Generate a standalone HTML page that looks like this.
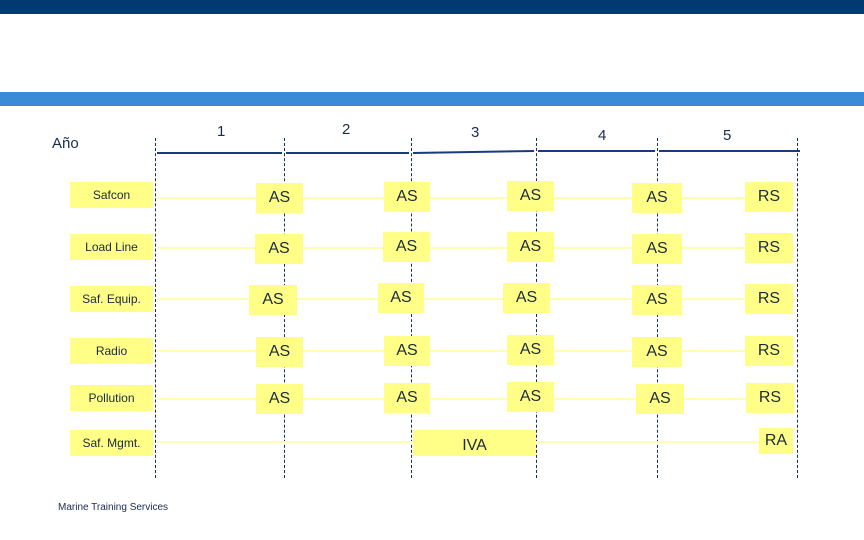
<!DOCTYPE html>
<html><head><meta charset="utf-8"><style>
body{margin:0;width:864px;height:540px;position:relative;background:#fff;font-family:"Liberation Sans",sans-serif;overflow:hidden}
.a{position:absolute}
.lb{position:absolute;background:#ffff88;color:#1a2a3a;font-size:12px;display:flex;align-items:center;justify-content:center;height:26px}
.bx{position:absolute;background:#ffff88;color:#1a2a3a;font-size:16px;display:flex;align-items:center;justify-content:center;height:30px}
.dl{position:absolute;top:138px;height:340px;border-left:1px dashed #1a3050;width:0}
.ar{position:absolute;height:2px;background:#ffffb0}
.yr{position:absolute;top:123px;font-size:15px;color:#1a2a50}
</style></head><body>
<div class="a" style="left:0;top:0;width:864px;height:14px;background:#003a70"></div>
<div class="a" style="left:0;top:92px;width:864px;height:14px;background:#3a8ad8"></div>
<div class="a" style="left:52px;top:135px;font-size:15px;color:#1a2a50">Año</div>
<svg class="a" style="left:0;top:0" width="864" height="540">
<g stroke="#1a3a80" stroke-width="2" fill="#1a3a80">
<line x1="157" y1="153" x2="282" y2="153"/><line x1="286" y1="153" x2="409" y2="153"/><line x1="413" y1="153" x2="534" y2="151"/><line x1="538" y1="151" x2="655" y2="151"/><line x1="659" y1="151" x2="800" y2="151"/>
</g></svg>
<div class="yr" style="left:217px">1</div>
<div class="yr" style="left:342px;top:121px">2</div>
<div class="yr" style="left:471px;top:124px">3</div>
<div class="yr" style="left:598px;top:127px">4</div>
<div class="yr" style="left:723px;top:127px">5</div>
<div class="dl" style="left:155px"></div>
<div class="dl" style="left:284px"></div>
<div class="dl" style="left:411px"></div>
<div class="dl" style="left:536px"></div>
<div class="dl" style="left:657px"></div>
<div class="dl" style="left:797px"></div>
<!-- arrows -->
<div class="ar" style="left:157px;top:197px;width:640px"></div>
<div class="ar" style="left:157px;top:247px;width:640px"></div>
<div class="ar" style="left:157px;top:298px;width:640px"></div>
<div class="ar" style="left:157px;top:350px;width:640px"></div>
<div class="ar" style="left:157px;top:398px;width:640px"></div>
<div class="ar" style="left:157px;top:441px;width:610px"></div>
<!-- labels -->
<div class="lb" style="left:70px;top:182px;width:83px">Safcon</div>
<div class="lb" style="left:70px;top:234px;width:83px">Load Line</div>
<div class="lb" style="left:70px;top:286px;width:83px">Saf. Equip.</div>
<div class="lb" style="left:70px;top:338px;width:83px">Radio</div>
<div class="lb" style="left:70px;top:385px;width:83px">Pollution</div>
<div class="lb" style="left:70px;top:430px;width:83px">Saf. Mgmt.</div>
<!-- row 1 -->
<div class="bx" style="left:256px;top:183px;width:47px">AS</div>
<div class="bx" style="left:384px;top:182px;width:46px">AS</div>
<div class="bx" style="left:507px;top:181px;width:47px">AS</div>
<div class="bx" style="left:632px;top:183px;width:50px">AS</div>
<div class="bx" style="left:745px;top:182px;width:48px">RS</div>
<!-- row 2 -->
<div class="bx" style="left:255px;top:234px;width:48px">AS</div>
<div class="bx" style="left:383px;top:232px;width:47px">AS</div>
<div class="bx" style="left:507px;top:232px;width:47px">AS</div>
<div class="bx" style="left:632px;top:234px;width:50px">AS</div>
<div class="bx" style="left:745px;top:233px;width:48px">RS</div>
<!-- row 3 -->
<div class="bx" style="left:249px;top:285px;width:48px">AS</div>
<div class="bx" style="left:378px;top:283px;width:46px">AS</div>
<div class="bx" style="left:503px;top:283px;width:47px">AS</div>
<div class="bx" style="left:632px;top:285px;width:50px">AS</div>
<div class="bx" style="left:745px;top:284px;width:48px">RS</div>
<!-- row 4 -->
<div class="bx" style="left:256px;top:337px;width:47px">AS</div>
<div class="bx" style="left:384px;top:336px;width:46px">AS</div>
<div class="bx" style="left:507px;top:335px;width:47px">AS</div>
<div class="bx" style="left:632px;top:337px;width:50px">AS</div>
<div class="bx" style="left:745px;top:336px;width:48px">RS</div>
<!-- row 5 -->
<div class="bx" style="left:256px;top:384px;width:47px">AS</div>
<div class="bx" style="left:384px;top:383px;width:46px">AS</div>
<div class="bx" style="left:507px;top:382px;width:47px">AS</div>
<div class="bx" style="left:636px;top:384px;width:48px">AS</div>
<div class="bx" style="left:746px;top:383px;width:48px">RS</div>
<!-- row 6 -->
<div class="bx" style="left:413px;top:430px;width:123px;height:26px;padding-top:6px;box-sizing:border-box">IVA</div>
<div class="bx" style="left:759px;top:428px;width:34px;height:26px">RA</div>
<div class="a" style="left:58px;top:502px;font-size:10px;color:#1a2a50">Marine Training Services</div>
</body></html>
